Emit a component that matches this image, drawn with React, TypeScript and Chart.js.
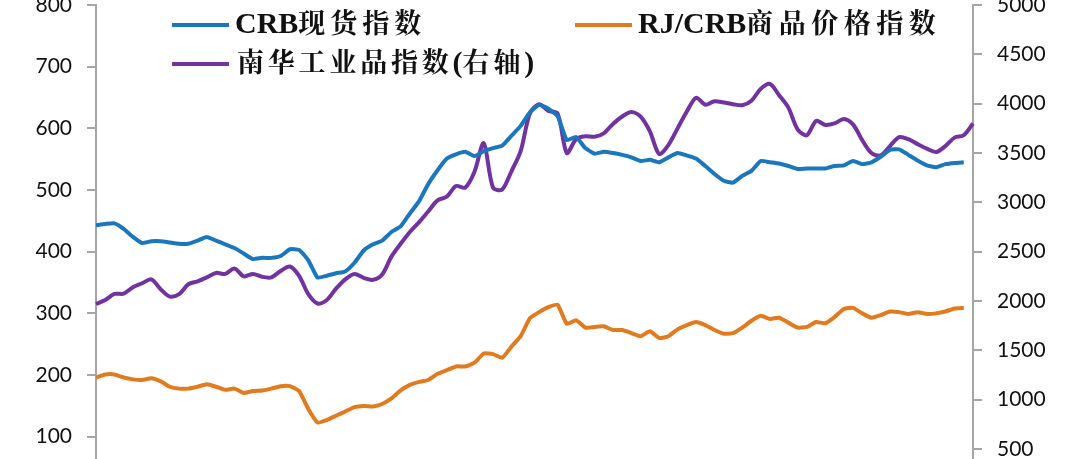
import React, { useEffect, useRef } from "react";
import { Chart, registerables } from "chart.js";

Chart.register(...registerables);

const months: string[] = [
  "2018-04","2018-05","2018-06","2018-07","2018-08","2018-09","2018-10","2018-11","2018-12",
  "2019-01","2019-02","2019-03","2019-04","2019-05","2019-06","2019-07","2019-08","2019-09","2019-10","2019-11","2019-12",
  "2020-01","2020-02","2020-03","2020-04","2020-05","2020-06","2020-07","2020-08","2020-09","2020-10","2020-11","2020-12",
  "2021-01","2021-02","2021-03","2021-04","2021-05","2021-06","2021-07","2021-08","2021-09","2021-10","2021-11","2021-12",
  "2022-01","2022-02","2022-03","2022-04","2022-05","2022-06","2022-07","2022-08","2022-09","2022-10","2022-11","2022-12",
  "2023-01","2023-02","2023-03","2023-04","2023-05","2023-06","2023-07","2023-08","2023-09","2023-10","2023-11","2023-12",
  "2024-01","2024-02","2024-03","2024-04","2024-05","2024-06","2024-07","2024-08","2024-09","2024-10","2024-11","2024-12",
  "2025-01","2025-02","2025-03","2025-04","2025-05","2025-06","2025-07","2025-08","2025-09","2025-10","2025-11","2025-12",
  "2026-01","2026-02","2026-03",
];

const crbSpot: number[] = [
  443, 445, 446, 437, 424, 414, 417, 417, 415, 413,
  413, 418, 424, 418, 412, 406, 397, 388, 390, 390,
  393, 404, 403, 386, 358, 361, 365, 368, 382, 402,
  412, 418, 432, 441, 462, 482, 510, 532, 551, 558,
  562, 555, 563, 568, 572, 588, 604, 626, 638, 632,
  620, 581, 586, 568, 559, 562, 560, 557, 553, 547,
  549, 545, 553, 560, 556, 551, 539, 526, 515, 512,
  523, 531, 547, 545, 543, 539, 534, 535, 535, 535,
  539, 540, 547, 542, 545, 554, 565, 566, 557, 548,
  540, 537, 542, 544, 545,
];

const rjCrb: number[] = [
  196, 201, 201, 196, 193, 192, 195, 190, 181, 178,
  178, 181, 185, 181, 176, 178, 171, 174, 175, 178,
  182, 182, 174, 145, 123, 127, 134, 141, 148, 150,
  149, 153, 162, 175, 184, 189, 192, 202, 208, 214,
  214, 220, 235, 234, 228, 246, 263, 292, 302, 310,
  314, 283, 289, 277, 278, 279, 273, 273, 268, 263,
  271, 260, 263, 274, 281, 286, 281, 273, 267, 268,
  277, 288, 296, 291, 293, 285, 277, 278, 286, 284,
  294, 307, 309, 300, 293, 297, 303, 302, 299, 302,
  299, 300, 303, 308, 309,
];

const nanhua: number[] = [
  1970, 2010, 2072, 2075, 2140, 2180, 2220, 2120, 2045, 2070,
  2170, 2200, 2240, 2285, 2275, 2330, 2250, 2275, 2245, 2240,
  2305, 2350, 2255, 2070, 1975, 2010, 2125, 2220, 2275, 2235,
  2215, 2270, 2450, 2580, 2700, 2800, 2910, 3020, 3058, 3165,
  3150, 3310, 3600, 3150, 3130, 3315, 3520, 3900, 3995, 3926,
  3900, 3500, 3640, 3670, 3665, 3700, 3795, 3870, 3916, 3870,
  3720, 3490, 3580, 3750, 3920, 4060, 3990, 4025, 4012, 3995,
  3984, 4030, 4150, 4200, 4085, 3960, 3740, 3680, 3825, 3785,
  3800, 3845, 3790, 3630, 3500, 3475, 3570, 3660, 3640, 3590,
  3544, 3510, 3570, 3656, 3680, 3798,
];

const seriesNames = ["CRB现货指数", "RJ/CRB商品价格指数", "南华工业品指数(右轴)"];
const BLUE = "#1b77bd";
const ORANGE = "#e27a1e";
const PURPLE = "#7232a0";
const AXIS = "#a6a6a6";
const TICK_FONT = { family: "Lato, 'Open Sans', sans-serif", size: 21 };

const latin: React.CSSProperties = {
  fontFamily: "'Liberation Serif', 'Times New Roman', serif",
  fontWeight: "bold",
  fontSize: 30,
};
const cjkBase: React.CSSProperties = {
  fontFamily: "'Noto Serif CJK SC', 'Noto Sans CJK SC', serif",
  fontWeight: "bold",
  fontSize: 27,
};

function LegendItem(props: {
  color: string;
  lineLeft: number;
  textLeft: number;
  y: number;
  spacing: number;
  parts: { t: string; latin: boolean }[];
}) {
  const { color, lineLeft, textLeft, y, spacing, parts } = props;
  return (
    <>
      <div
        style={{
          position: "absolute",
          left: lineLeft,
          top: y - 2,
          width: 57,
          height: 4,
          background: color,
        }}
      />
      <div
        style={{
          position: "absolute",
          left: textLeft,
          top: y,
          transform: "translateY(-50%)",
          lineHeight: "34px",
          color: "#111",
          whiteSpace: "nowrap",
        }}
      >
        {parts.map((p, i) => (
          <span
            key={i}
            style={p.latin ? latin : { ...cjkBase, letterSpacing: spacing + "px" }}
          >
            {p.t}
          </span>
        ))}
      </div>
    </>
  );
}

export default function App() {
  const canvasRef = useRef<HTMLCanvasElement | null>(null);

  useEffect(() => {
    if (!canvasRef.current) return;
    const chart = new Chart(canvasRef.current, {
      type: "line",
      data: {
        labels: months,
        datasets: [
          {
            label: seriesNames[0],
            data: crbSpot,
            borderColor: BLUE,
            borderWidth: 4,
            pointRadius: 0,
            tension: 0.15,
            yAxisID: "y",
          },
          {
            label: seriesNames[1],
            data: rjCrb,
            borderColor: ORANGE,
            borderWidth: 4,
            pointRadius: 0,
            tension: 0.15,
            yAxisID: "y",
          },
          {
            label: seriesNames[2],
            data: nanhua,
            borderColor: PURPLE,
            borderWidth: 4,
            pointRadius: 0,
            tension: 0.3,
            yAxisID: "y1",
          },
        ],
      },
      options: {
        animation: false,
        responsive: true,
        maintainAspectRatio: false,
        layout: { padding: { top: 35, bottom: 17, left: 0, right: 0 } },
        plugins: {
          legend: { display: false },
          tooltip: { enabled: false },
        },
        scales: {
          x: { type: "category", display: false, offset: false },
          y: {
            position: "left",
            min: 0,
            max: 800,
            ticks: {
              stepSize: 100,
              font: TICK_FONT,
              color: "#111",
              padding: 15,
              callback: (v: any) => String(v),
            },
            grid: {
              drawOnChartArea: false,
              drawTicks: true,
              tickLength: 9,
              color: AXIS,
              lineWidth: 2,
            },
            border: { display: true, color: AXIS, width: 2 },
            afterFit: (s: any) => {
              s.width = 96;
            },
          },
          y1: {
            position: "right",
            min: 0,
            max: 5000,
            ticks: {
              stepSize: 500,
              font: TICK_FONT,
              color: "#111",
              padding: 15,
              callback: (v: any) => String(v),
            },
            grid: {
              drawOnChartArea: false,
              drawTicks: true,
              tickLength: 9,
              color: AXIS,
              lineWidth: 2,
            },
            border: { display: true, color: AXIS, width: 2 },
            afterFit: (s: any) => {
              s.width = 107;
            },
          },
        },
      },
    });
    return () => chart.destroy();
  }, []);

  return (
    <div
      style={{
        position: "fixed",
        left: 0,
        top: 0,
        width: 1080,
        height: 459,
        overflow: "hidden",
        background: "#fff",
      }}
    >
      <div style={{ position: "absolute", left: 0, top: -30, width: 1080, height: 556 }}>
        <canvas ref={canvasRef} />
      </div>
      <LegendItem
        color={BLUE}
        lineLeft={172}
        textLeft={235}
        y={25}
        spacing={5}
        parts={[
          { t: "CRB", latin: true },
          { t: "现货指数", latin: false },
        ]}
      />
      <LegendItem
        color={ORANGE}
        lineLeft={575}
        textLeft={638}
        y={25}
        spacing={5.5}
        parts={[
          { t: "RJ/CRB", latin: true },
          { t: "商品价格指数", latin: false },
        ]}
      />
      <LegendItem
        color={PURPLE}
        lineLeft={172}
        textLeft={237}
        y={64}
        spacing={3.8}
        parts={[
          { t: "南华工业品指数", latin: false },
          { t: "(", latin: true },
          { t: "右轴", latin: false },
          { t: ")", latin: true },
        ]}
      />
    </div>
  );
}
